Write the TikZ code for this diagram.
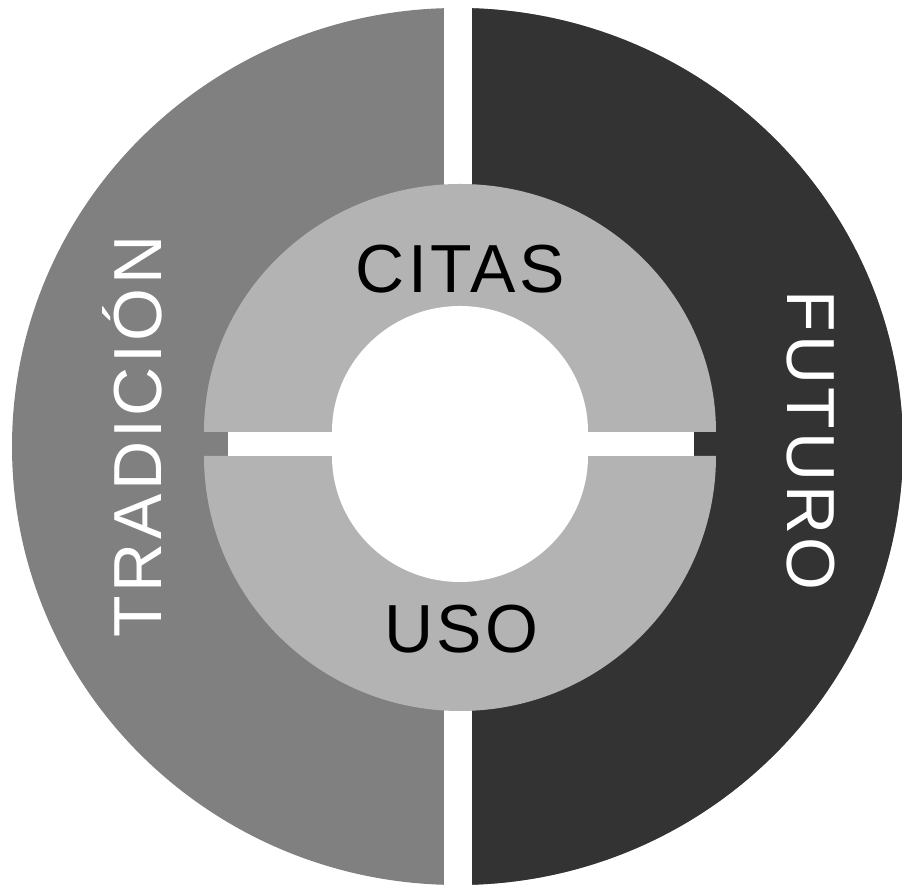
\documentclass[tikz,border=0pt]{standalone}
\usepackage{fontspec}
\setmainfont{Liberation Sans}
\newfontfamily\ringfont[LetterSpace=5]{Liberation Sans}
\usepackage{tikz}
\usetikzlibrary{positioning}
\definecolor{tradcolor}{RGB}{128,128,128}
\definecolor{futcolor}{RGB}{51,51,51}
\definecolor{ringcolor}{RGB}{179,179,179}

\begin{document}
\begin{tikzpicture}[x=0.5pt, y=0.5pt,
    halfdisc/.style={fill=#1},
    ringpart/.style={fill=ringcolor},
    gapfill/.style={fill=white},
    biglabel/.style={font=\ringfont\fontsize{34}{40}\selectfont, inner sep=0pt, anchor=base}]
    \useasboundingbox (0,0) rectangle (902,889);

    % outer halves
    \fill[halfdisc=tradcolor] (457.5,442.5) ellipse[x radius=445.5, y radius=438.5];
    \begin{scope}
        \clip (458,0) rectangle (910,889);
        \fill[halfdisc=futcolor] (457.5,442.5) ellipse[x radius=445.5, y radius=438.5];
    \end{scope}
    \fill[gapfill] (444,0) rectangle (472,889);

    % inner ring, upper and lower part
    \fill[ringpart] (204,457) arc[start angle=180, end angle=0, x radius=256, y radius=248] -- (332,457) -- cycle;
    \fill[ringpart] (204,433) arc[start angle=180, end angle=360, x radius=256, y radius=255] -- (332,433) -- cycle;

    % hole and bar
    \fill[gapfill] (332,457) arc[start angle=180, end angle=0, x radius=128, y radius=126]
        -- (588,433) arc[start angle=0, end angle=-180, x radius=128, y radius=126] -- cycle;
    \fill[gapfill] (228,433) rectangle (694,457);

    % labels
    \node[biglabel, text=white, rotate=90] (tradicion) at (162,452.5) {TRADICIÓN};
    \node[biglabel, text=white, rotate=-90] (futuro) at (787,448.5) {FUTURO};
    \node[biglabel] (citas) at (460,596) {CITAS};
    \node[biglabel] (uso) at (461.5,236) {USO};
\end{tikzpicture}
\end{document}
